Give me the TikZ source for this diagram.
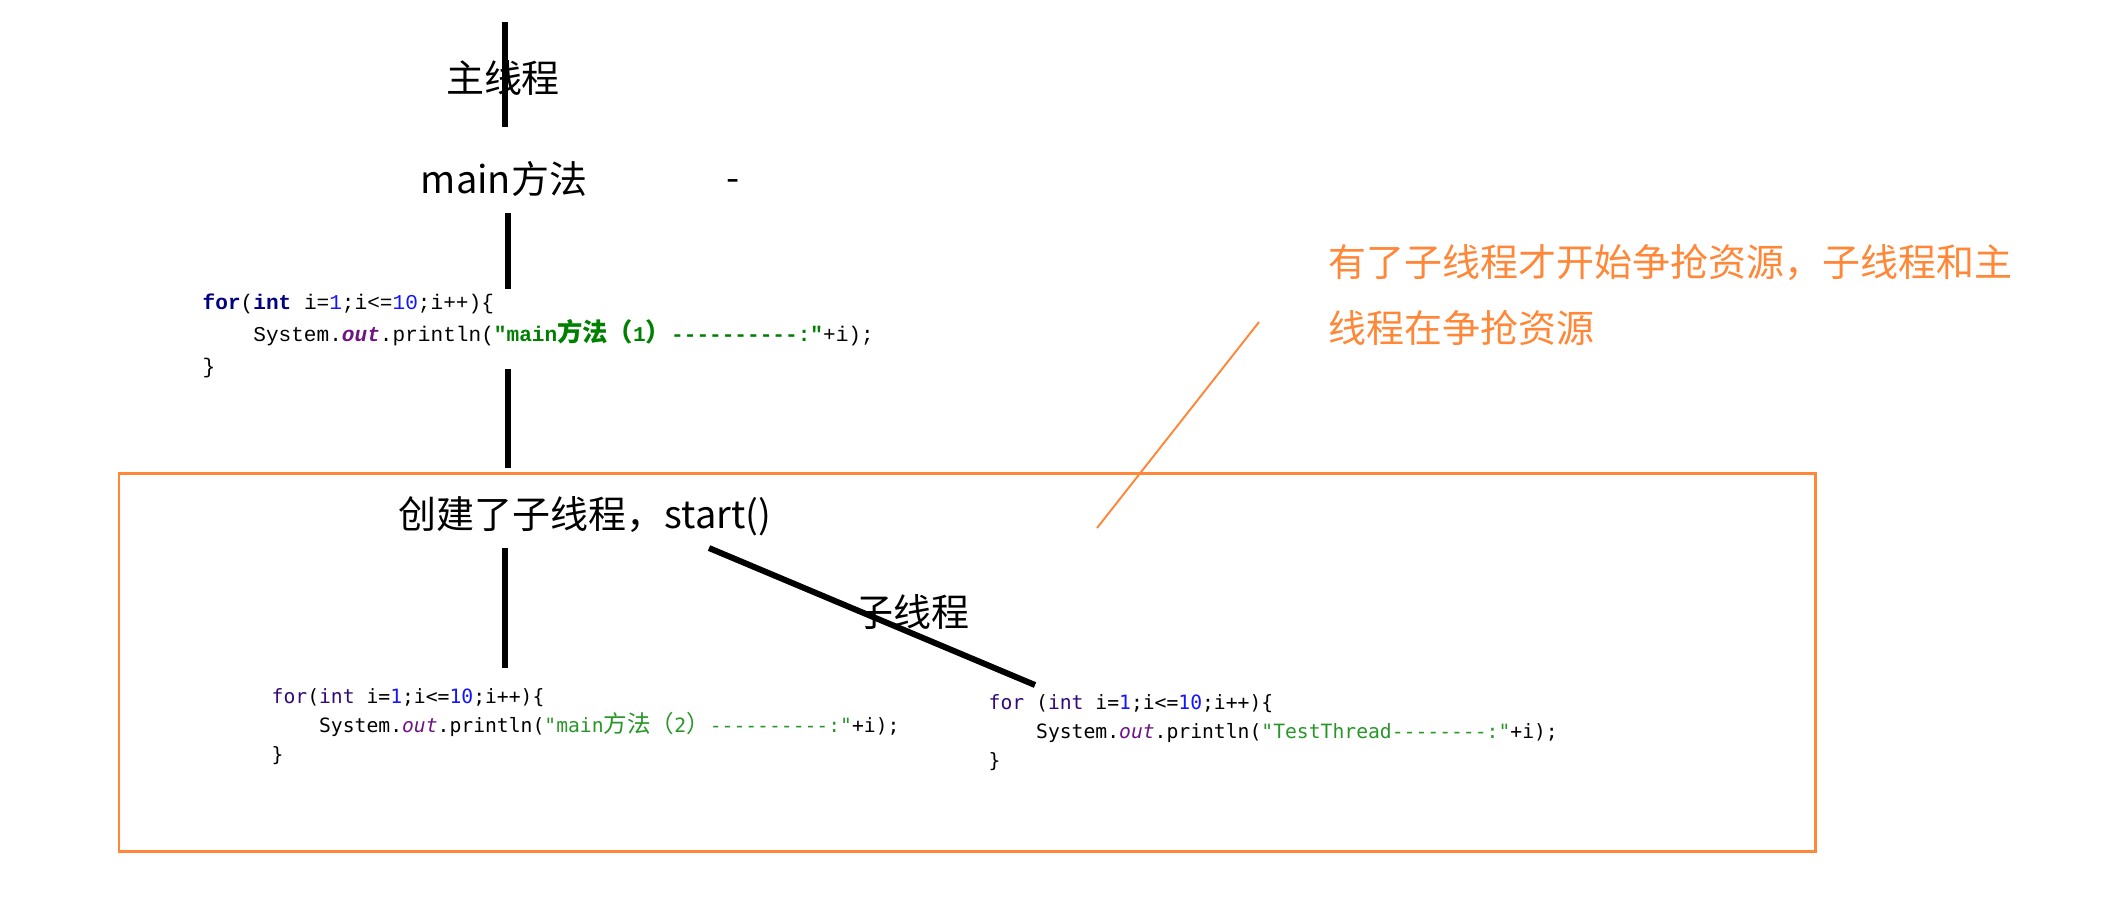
\documentclass[tikz,border=0pt]{standalone}
\usepackage{fontspec}
\setmainfont{Noto Sans CJK SC}
\newfontfamily\cjk{Noto Sans CJK SC}
\newfontfamily\monoA{Liberation Mono}
\newfontfamily\monoB{DejaVu Sans Mono}

\definecolor{boxorange}{RGB}{255,135,55}
\definecolor{kwnavy}{RGB}{0,0,128}
\definecolor{kwdeep}{RGB}{50,10,120}
\definecolor{numblue}{RGB}{20,20,255}
\definecolor{fieldpurple}{RGB}{110,20,130}
\definecolor{strgreen}{RGB}{0,128,0}
\definecolor{strlight}{RGB}{40,150,40}

\newcommand\cjkw[2]{{\cjk\fontsize{#1}{#1}\selectfont #2}}

\begin{document}
\begin{tikzpicture}
[
    x=0.01cm, y=-0.01cm,
    threadline/.style={line width=1.7pt},
    tlabel/.style={font=\fontsize{10.8}{13}\selectfont, inner sep=0pt},
    codeold/.style={font=\monoA\fontsize{6}{9.1}\selectfont, align=left, anchor=north west, inner sep=0pt},
    codenew/.style={font=\monoB\fontsize{5.6}{8.2}\selectfont, align=left, anchor=north west, inner sep=0pt},
    notetext/.style={font=\fontsize{10.8}{18.7}\selectfont, text=boxorange, align=left, anchor=north west, inner sep=0pt},
]
\useasboundingbox (0,0) rectangle (2104,920);

% main thread
\node [tlabel] (mainth) at (503,78) {主线程};
\node [tlabel] (mainm) at (504,179) {main方法};
\node [tlabel, anchor=center] (dash) at (733,186) {-};
\node [codeold] (code1) at (202,293)
{\textcolor{kwnavy}{\bfseries for}(\textcolor{kwnavy}{\bfseries int} i=\textcolor{numblue}{1};i<=\textcolor{numblue}{10};i++)\{\\
\phantom{xxxx}System.\textcolor{fieldpurple}{\bfseries\itshape out}.println(\textcolor{strgreen}{\bfseries"main\cjkw{7.2}{方法（}1\cjkw{7.2}{）}-{}-{}-{}-{}-{}-{}-{}-{}-{}-:"}+i);\\
\}};

% the box where both threads run
\draw [boxorange, line width=0.85pt] (119,473) rectangle (1815,851);
\node [tlabel] (create) at (585,516) {创建了子线程，start()};
\node [codenew] (code2) at (271,688)
{\textcolor{kwdeep}{for}(\textcolor{kwdeep}{int} i=\textcolor{numblue}{1};i<=\textcolor{numblue}{10};i++)\{\\
\phantom{xxxx}System.\textcolor{fieldpurple}{\itshape out}.println(\textcolor{strlight}{"main\cjkw{6.7}{方法（}2\cjkw{6.7}{）}-{}-{}-{}-{}-{}-{}-{}-{}-{}-:"}+i);\\
\}};
\node [tlabel] (subth) at (912,612) {子线程};
\node [codenew] (code3) at (988,694)
{\textcolor{kwdeep}{for} (\textcolor{kwdeep}{int} i=\textcolor{numblue}{1};i<=\textcolor{numblue}{10};i++)\{\\
\phantom{xxxx}System.\textcolor{fieldpurple}{\itshape out}.println(\textcolor{strlight}{"TestThread-{}-{}-{}-{}-{}-{}-{}-:"}+i);\\
\}};

% note
\node [notetext] (note) at (1328,244)
{有了子线程才开始争抢资源，子线程和主\\线程在争抢资源};

% connectors
\coordinate (mtop) at (505,22);
\coordinate (trunk) at (508,0);
\coordinate (fork) at (709,548);
\coordinate (subend) at (1035,685);
\coordinate (tipA) at (1259,322);
\coordinate (tipB) at (1097,528);
\draw [threadline, shorten >=0.34cm] (mtop) -- (mtop |- mainm.north);
\draw [threadline, shorten <=0.16cm, shorten >=0.04cm] (trunk |- mainm.south) -- (trunk |- code1.north);
\draw [threadline, shorten <=-0.09cm, shorten >=0.28cm] (trunk |- code1.south) -- (trunk |- create.north);
\draw [threadline, shorten <=0.12cm, shorten >=0.2cm] (mtop |- create.south) -- (mtop |- code2.north);
\draw [threadline] (fork) -- (subend);
\draw [boxorange, line width=0.55pt] (tipA) -- (tipB);
\end{tikzpicture}
\end{document}
